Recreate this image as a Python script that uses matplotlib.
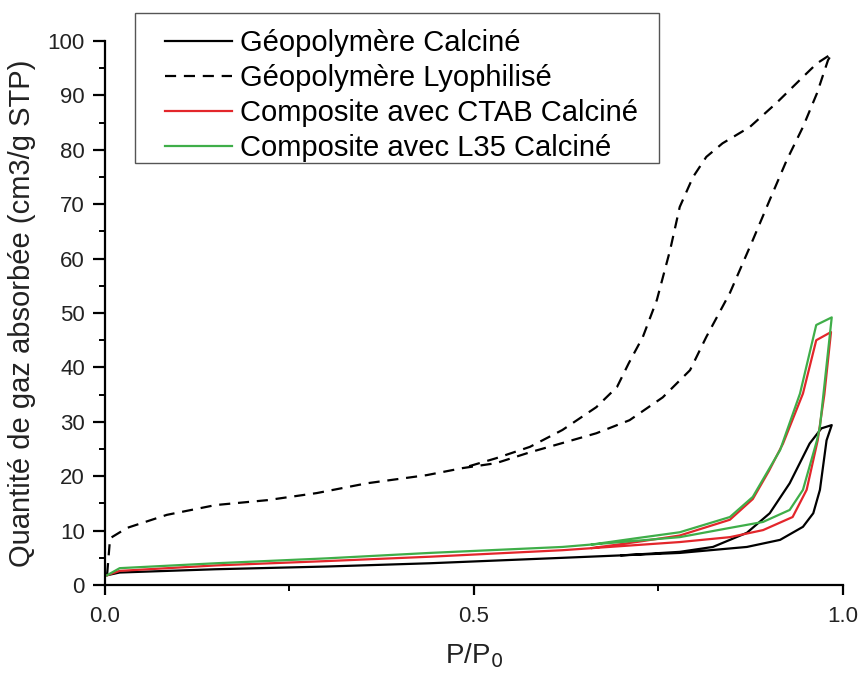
import matplotlib
matplotlib.use("Agg")
import matplotlib.pyplot as plt
from matplotlib.ticker import MultipleLocator
from matplotlib.patches import Rectangle

plt.rcParams['font.family'] = ['Liberation Sans', 'DejaVu Sans']

labels = ["Géopolymère Calciné", "Géopolymère Lyophilisé",
          "Composite avec CTAB Calciné", "Composite avec L35 Calciné"]

# Géopolymère Calciné (adsorption then desorption)
calc_ads_x = [0.003, 0.02, 0.15, 0.30, 0.44, 0.62, 0.779, 0.87, 0.915, 0.946, 0.96, 0.969, 0.978, 0.985]
calc_ads_y = [1.8, 2.3, 2.9, 3.4, 4.0, 5.0, 5.9, 7.0, 8.3, 10.7, 13.2, 17.5, 26.6, 29.4]
calc_des_x = [0.985, 0.971, 0.955, 0.928, 0.901, 0.87, 0.824, 0.779, 0.70]
calc_des_y = [29.4, 28.8, 26.0, 18.7, 13.2, 9.6, 7.0, 6.1, 5.45]

# Géopolymère Lyophilisé
lyo_ads_x = [0.003, 0.007, 0.03, 0.084, 0.15, 0.22, 0.287, 0.355, 0.436, 0.485, 0.53, 0.576, 0.62, 0.666,
             0.711, 0.756, 0.793, 0.815, 0.847, 0.878, 0.901, 0.924, 0.946, 0.965, 0.98, 0.985]
lyo_ads_y = [2.0, 8.6, 10.5, 12.9, 14.7, 15.6, 16.9, 18.7, 20.2, 21.5, 22.4, 24.4, 26.1, 27.9,
             30.3, 34.5, 39.5, 45.6, 53.7, 63.4, 70.8, 78.1, 84.2, 90.4, 96.5, 97.6]
lyo_des_x = [0.985, 0.982, 0.965, 0.946, 0.91, 0.874, 0.837, 0.815, 0.797, 0.779, 0.766, 0.748, 0.729,
             0.71, 0.694, 0.666, 0.62, 0.576, 0.53, 0.485]
lyo_des_y = [97.6, 97.4, 95.9, 93.4, 88.6, 84.2, 81.2, 78.7, 75.0, 69.5, 61.6, 52.4, 45.6,
             40.8, 36.4, 32.7, 28.5, 25.4, 23.3, 21.5]

# Composite avec CTAB Calciné
ctab_ads_x = [0.003, 0.02, 0.15, 0.30, 0.44, 0.62, 0.779, 0.847, 0.892, 0.932, 0.951, 0.966, 0.975, 0.984]
ctab_ads_y = [1.8, 2.6, 3.6, 4.4, 5.2, 6.4, 7.9, 8.8, 10.1, 12.5, 17.5, 26.6, 35.0, 46.5]
ctab_des_x = [0.984, 0.964, 0.946, 0.919, 0.90, 0.878, 0.847, 0.779, 0.72, 0.66]
ctab_des_y = [46.5, 45.0, 35.2, 26.0, 21.0, 15.8, 12.0, 9.1, 7.9, 6.8]

# Composite avec L35 Calciné
l35_ads_x = [0.003, 0.02, 0.15, 0.30, 0.44, 0.62, 0.779, 0.847, 0.892, 0.928, 0.946, 0.965, 0.969, 0.985]
l35_ads_y = [1.8, 3.1, 4.0, 4.9, 5.9, 7.0, 8.8, 10.5, 11.6, 13.8, 17.5, 26.6, 29.1, 49.2]
l35_des_x = [0.985, 0.964, 0.942, 0.915, 0.878, 0.847, 0.779, 0.72, 0.66]
l35_des_y = [49.2, 47.8, 35.2, 24.8, 16.2, 12.5, 9.7, 8.6, 7.45]

fig = plt.figure(figsize=(8.6, 6.75), dpi=100)
ax = fig.add_axes([0.122, 0.1333, 0.858, 0.8059])

lw = 1.6
ax.plot(calc_ads_x + calc_des_x, calc_ads_y + calc_des_y, color='black', lw=lw, label=labels[0])
ax.plot(lyo_ads_x + lyo_des_x, lyo_ads_y + lyo_des_y, color='black', lw=lw, ls=(0, (5, 3.5)), label=labels[1])
ax.plot(ctab_ads_x + ctab_des_x, ctab_ads_y + ctab_des_y, color='#e3262b', lw=lw, label=labels[2])
ax.plot(l35_ads_x + l35_des_x, l35_ads_y + l35_des_y, color='#3fae49', lw=lw, label=labels[3])

ax.set_xlim(0, 1.0)
ax.set_ylim(0, 100)
ax.spines['top'].set_visible(False)
ax.spines['right'].set_visible(False)
for s in ('left', 'bottom'):
    ax.spines[s].set_linewidth(1.6)
ax.xaxis.set_minor_locator(MultipleLocator(0.25))
ax.yaxis.set_major_locator(MultipleLocator(10))
ax.yaxis.set_minor_locator(MultipleLocator(5))
ax.set_xticks([0, 0.5, 1.0])
ax.set_xticklabels(['0.0', '0.5', '1.0'])
ax.tick_params(which='major', direction='out', length=8.5, width=1.6, labelsize=16, labelcolor='#222222')
ax.tick_params(which='minor', direction='out', length=4.5, width=1.4)
ax.tick_params(axis='x', which='major', length=7, pad=8)
ax.tick_params(axis='y', which='major', pad=6)

ax.set_xlabel('P/P$_0$', fontsize=20, labelpad=10, color='#222222')
ax.set_ylabel('Quantité de gaz absorbée (cm3/g STP)', fontsize=21, labelpad=8, color='#222222')

# legend frame drawn separately (wider horizontal padding than vertical)
W, H = 860.0, 675.0
fig.patches.append(Rectangle((135 / W, 1 - 163 / H), (659 - 135) / W, (163 - 13) / H,
                             transform=fig.transFigure, fill=False, edgecolor='#555555', lw=1.0))
leg = ax.legend(loc='upper left', bbox_to_anchor=(165 / W, 1 - 29 / H), bbox_transform=fig.transFigure,
                fontsize=21, frameon=False, handlelength=2.3, handletextpad=0.28,
                labelspacing=0.245, borderpad=0, borderaxespad=0)

fig.savefig('out.png', dpi=100)
